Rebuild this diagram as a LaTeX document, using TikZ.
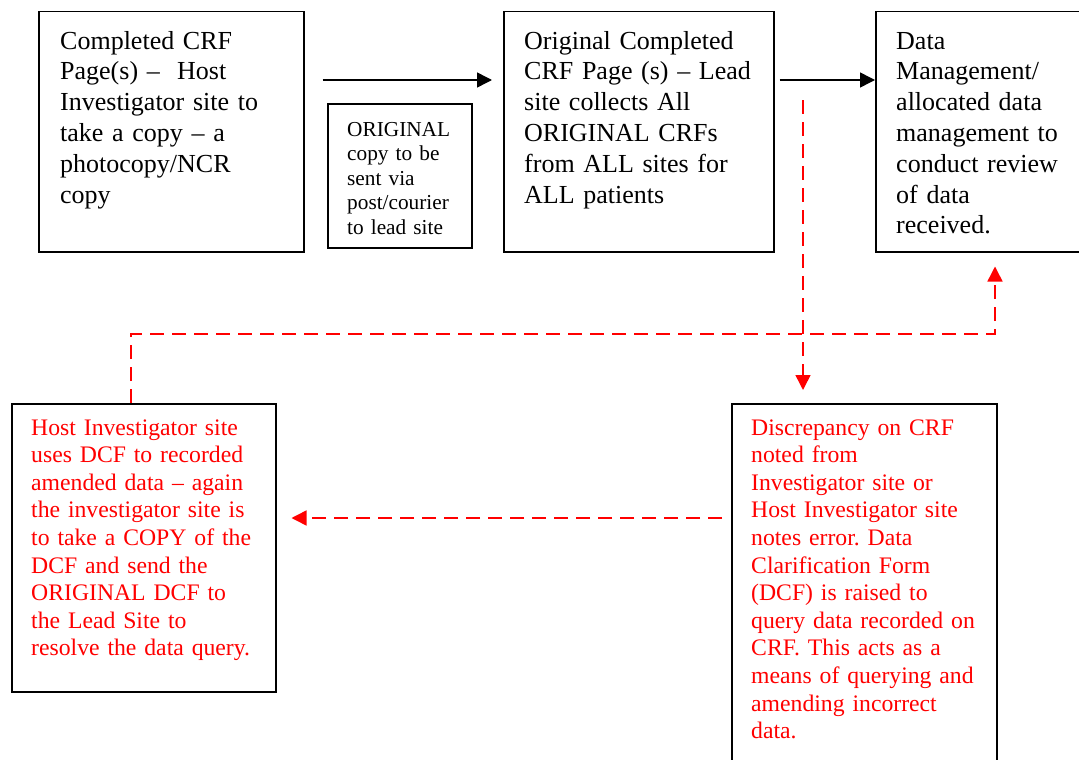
\documentclass[tikz,border=0pt]{standalone}
\usepackage{fontspec}
\setmainfont{Liberation Serif}
\usetikzlibrary{arrows.meta,positioning}
\frenchspacing

\begin{document}
\begin{tikzpicture}[x=1pt, y=-1pt,
    box/.style = {draw, line width=1.5pt, anchor=north west, inner sep=0pt},
    txt/.style = {anchor=base west, inner sep=0pt, text width=260pt, align=left},
    bigtxt/.style = {txt, font=\fontsize{26}{30.8}\selectfont},
    smalltxt/.style = {txt, font=\fontsize{21.3}{24.5}\selectfont},
    redtxt/.style = {txt, red, font=\fontsize{23.7}{27.6}\selectfont},
    arr/.style = {line width=1.5pt, -{Triangle[length=15pt, width=15pt]}},
    redarr/.style = {arr, red, dash pattern=on 14pt off 8pt}]
    \useasboundingbox (0,0) rectangle (1079,760);
    % top row
    \node[box, minimum width=265pt, minimum height=240pt] (crf) at (38,11) {};
    \node[box, minimum width=144pt, minimum height=144pt] (post) at (327,103) {};
    \node[box, minimum width=270pt, minimum height=240pt] (lead) at (503,11) {};
    \node[box, minimum width=260pt, minimum height=240pt] (dm) at (875,11) {};
    \node[bigtxt] (crftxt) at (60,49) {Completed CRF\\Page(s) --\ \ Host\\Investigator site to\\take a copy -- a\\photocopy/NCR\\copy};
    \node[smalltxt] (posttxt) at (347,136) {ORIGINAL\\copy to be\\sent via\\post/courier\\to lead site};
    \node[bigtxt] (leadtxt) at (524,49) {Original Completed\\CRF Page (s) -- Lead\\site collects All\\ORIGINAL CRFs\\from ALL sites for\\ALL patients};
    \node[bigtxt] (dmtxt) at (896,49) {Data\\Management/\\allocated data\\management to\\conduct review\\of data\\received.};
    % bottom row
    \node[box, minimum width=264pt, minimum height=288pt] (host) at (11,403) {};
    \node[box, minimum width=265pt, minimum height=400pt] (disc) at (731,403) {};
    \node[redtxt] (hosttxt) at (31,435) {Host Investigator site\\uses DCF to recorded\\amended data -- again\\the investigator site is\\to take a COPY of the\\DCF and send the\\ORIGINAL DCF to\\the Lead Site to\\resolve the data query.};
    \node[redtxt] (disctxt) at (751,435) {Discrepancy on CRF\\noted from\\Investigator site or\\Host Investigator site\\notes error. Data\\Clarification Form\\(DCF) is raised to\\query data recorded on\\CRF. This acts as a\\means of querying and\\amending incorrect\\data.};
    % connectors
    \coordinate (s1) at ([xshift=18]crf.north east |- 0,80);
    \coordinate (e1) at ([xshift=-11]lead.north west |- 0,80);
    \coordinate (s2) at ([xshift=5]lead.north east |- 0,80);
    \coordinate (e2) at (dm.north west |- 0,80);
    \coordinate (qs) at (803,100);
    \coordinate (qe) at ([xshift=72,yshift=13]disc.north west);
    \coordinate (bs) at ([xshift=-9,yshift=-115]disc.north west);
    \coordinate (be) at ([xshift=15]host.north east |- bs);
    \coordinate (us) at ([xshift=120]host.north west);
    \coordinate (ue) at ([xshift=120,yshift=-14]dm.south west);
    \draw[arr] (s1) -- (e1);
    \draw[arr] (s2) -- (e2);
    \draw[redarr] (qs) -- (qe);
    \draw[redarr] (bs) -- (be);
    \draw[redarr] (us) -- ++(0,-69) -| (ue);
\end{tikzpicture}
\end{document}
